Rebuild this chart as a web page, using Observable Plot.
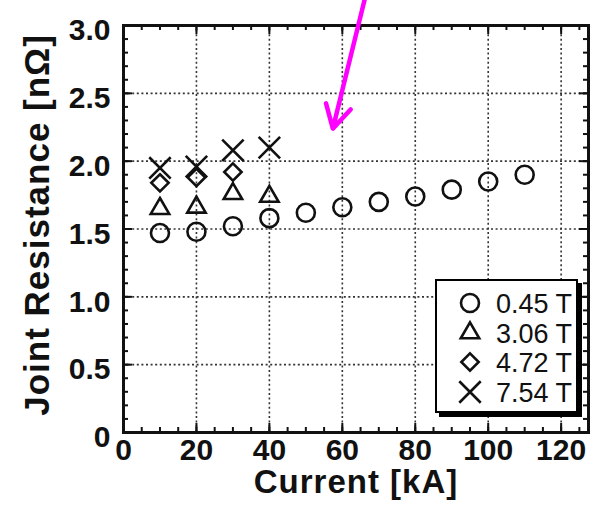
<!DOCTYPE html>
<html>
<head>
<meta charset="utf-8">
<script src="https://cdn.jsdelivr.net/npm/d3@7"></script>
<script src="https://cdn.jsdelivr.net/npm/@observablehq/plot@0.6"></script>
<style>
  body { margin: 0; background: #fff; font-family: "Liberation Sans", Arial, sans-serif; }
  #wrap { position: relative; width: 590px; height: 505px; overflow: hidden; }
  .xtitle text { letter-spacing: 1px; }
  .ytitle text { letter-spacing: 1px; }
  #legend { position: absolute; left: 435px; top: 279px; width: 139px; height: 130px;
            border: 2px solid #000; background: #fff; box-shadow: 4px 4px 0 #000; }
</style>
</head>
<body>
<div id="wrap"></div>
<script>
// ---- data ----
const fieldLabels = ["0.45 T", "3.06 T", "4.72 T", "7.54 T"];
const fieldSymbols = ["circle", "triangle2", "diamond2", "times"];

const current045 = [10, 20, 30, 40, 50, 60, 70, 80, 90, 100, 110];
const res045     = [1.47, 1.48, 1.52, 1.58, 1.62, 1.66, 1.70, 1.74, 1.79, 1.85, 1.90];
const current306 = [10, 20, 30, 40];
const res306     = [1.65, 1.66, 1.76, 1.74];
const current472 = [10, 20, 30];
const res472     = [1.84, 1.88, 1.92];
const current754 = [10, 20, 30, 40];
const res754     = [1.95, 1.96, 2.08, 2.10];

const xTicks = [0, 20, 40, 60, 80, 100, 120];
const yTicks = [0, 0.5, 1.0, 1.5, 2.0, 2.5, 3.0];
const xMinor = d3.range(0, 126, 5);
const yMinor = d3.range(0, 3.001, 0.1).map(v => +v.toFixed(1));

// magenta annotation arrow (from -> to), in data units
const arrowFrom = [66.2, 3.2];
const arrowTo   = [57.4, 2.24];

// ---- build table ----
const seriesX = [current045, current306, current472, current754];
const seriesY = [res045, res306, res472, res754];
const points = [];
seriesX.forEach((xs, s) => xs.forEach((x, i) => points.push({x, y: seriesY[s][i], s})));

const symR = {circle: 9, triangle2: 8.8, diamond2: 7.8, times: 9.8};

const W = 590, H = 505;
const mL = 123, mR = 2, mT = 25, mB = 73;
const innerH = H - mT - mB;
const innerW = W - mL - mR;

const chart = Plot.plot({
  width: W, height: H,
  marginLeft: mL, marginRight: mR, marginTop: mT, marginBottom: mB,
  style: {fontFamily: "'Liberation Sans', Arial, sans-serif", fontSize: "30px", fontWeight: "bold", color: "#111", overflow: "visible", background: "transparent"},
  x: {domain: [0, 127.5], ticks: xTicks, tickSize: 0, tickPadding: 6, tickFormat: d => String(d), label: null},
  y: {domain: [0, 3], ticks: yTicks, tickSize: 0, tickPadding: 13, tickFormat: d => d === 0 ? "0" : d.toFixed(1), label: null},
  symbol: {type: "identity"},
  r: {type: "identity"},
  marks: [
    // dotted grid
    Plot.ruleX(xTicks.filter(v => v > 0), {x: d => d, stroke: "#333", strokeWidth: 1.6, strokeDasharray: "2,2.6"}),
    Plot.ruleY(yTicks.filter(v => v > 0 && v < 3), {y: d => d, stroke: "#333", strokeWidth: 1.6, strokeDasharray: "2,2.6"}),
    // inward ticks bottom/top/left/right
    Plot.tickX(xMinor, {x: d => d, insetTop: innerH - 5, stroke: "#111", strokeWidth: 2}),
    Plot.tickX(xMinor, {x: d => d, insetBottom: innerH - 5, stroke: "#111", strokeWidth: 2}),
    Plot.tickX(xTicks, {x: d => d, insetTop: innerH - 9, stroke: "#111", strokeWidth: 2}),
    Plot.tickX(xTicks, {x: d => d, insetBottom: innerH - 9, stroke: "#111", strokeWidth: 2}),
    Plot.tickY(yMinor, {y: d => d, insetRight: innerW - 5, stroke: "#111", strokeWidth: 2}),
    Plot.tickY(yMinor, {y: d => d, insetLeft: innerW - 5, stroke: "#111", strokeWidth: 2}),
    Plot.tickY(yTicks, {y: d => d, insetRight: innerW - 9, stroke: "#111", strokeWidth: 2}),
    Plot.tickY(yTicks, {y: d => d, insetLeft: innerW - 9, stroke: "#111", strokeWidth: 2}),
    Plot.frame({stroke: "#111", strokeWidth: 3}),
    // data
    Plot.dot(points, {x: "x", y: "y", symbol: d => fieldSymbols[d.s], r: d => symR[fieldSymbols[d.s]], stroke: "#111", strokeWidth: 2.6, fill: "none"}),
    // arrow
    Plot.arrow([0], {x1: () => arrowFrom[0], y1: () => arrowFrom[1], x2: () => arrowTo[0], y2: () => arrowTo[1],
      stroke: "#ff00ff", strokeWidth: 4.5, headLength: 8.7, headAngle: 58, clip: false}),
    // axis titles
    Plot.text(["Current [kA]"], {frameAnchor: "bottom", dy: 50, lineAnchor: "middle", textAnchor: "middle", fontSize: 33, fontWeight: "bold", fill: "#111", className: "xtitle"}),
    Plot.text(["Joint Resistance [nΩ]"], {frameAnchor: "left", dx: -86, dy: -4, rotate: -90, lineAnchor: "middle", textAnchor: "middle", fontSize: 35, fontWeight: "bold", fill: "#111", className: "ytitle"})
  ]
});
document.getElementById("wrap").appendChild(chart);
// nudge y tick labels slightly above their gridlines, as in the reference
d3.select(chart).selectAll("g").filter(function() {
  const a = this.getAttribute("aria-label") || "";
  return a.startsWith("y-axis");
}).selectAll("text").attr("dy", "0.17em");

// ---- legend ----
const legend = document.createElement("div");
legend.id = "legend";
document.getElementById("wrap").appendChild(legend);
const lsvg = d3.select(legend).append("svg").attr("width", 139).attr("height", 130).style("display", "block");
const symMap = {circle: d3.symbolCircle, triangle2: d3.symbolTriangle2, diamond2: d3.symbolDiamond2, times: d3.symbolTimes};
const rows = [22, 52, 81, 111];
fieldLabels.forEach((lab, i) => {
  const rr = symR[fieldSymbols[i]];
  const g = lsvg.append("g").attr("transform", `translate(33,${rows[i]})`);
  g.append("path").attr("d", d3.symbol(symMap[fieldSymbols[i]], Math.PI * rr * rr)())
    .attr("fill", "none").attr("stroke", "#111").attr("stroke-width", 2.6);
  lsvg.append("text").attr("x", 59).attr("y", rows[i]).attr("dy", "0.36em")
    .attr("font-family", "'Liberation Sans', Arial, sans-serif").attr("font-size", 27)
    .attr("fill", "#111").text(lab);
});
</script>
</body>
</html>
